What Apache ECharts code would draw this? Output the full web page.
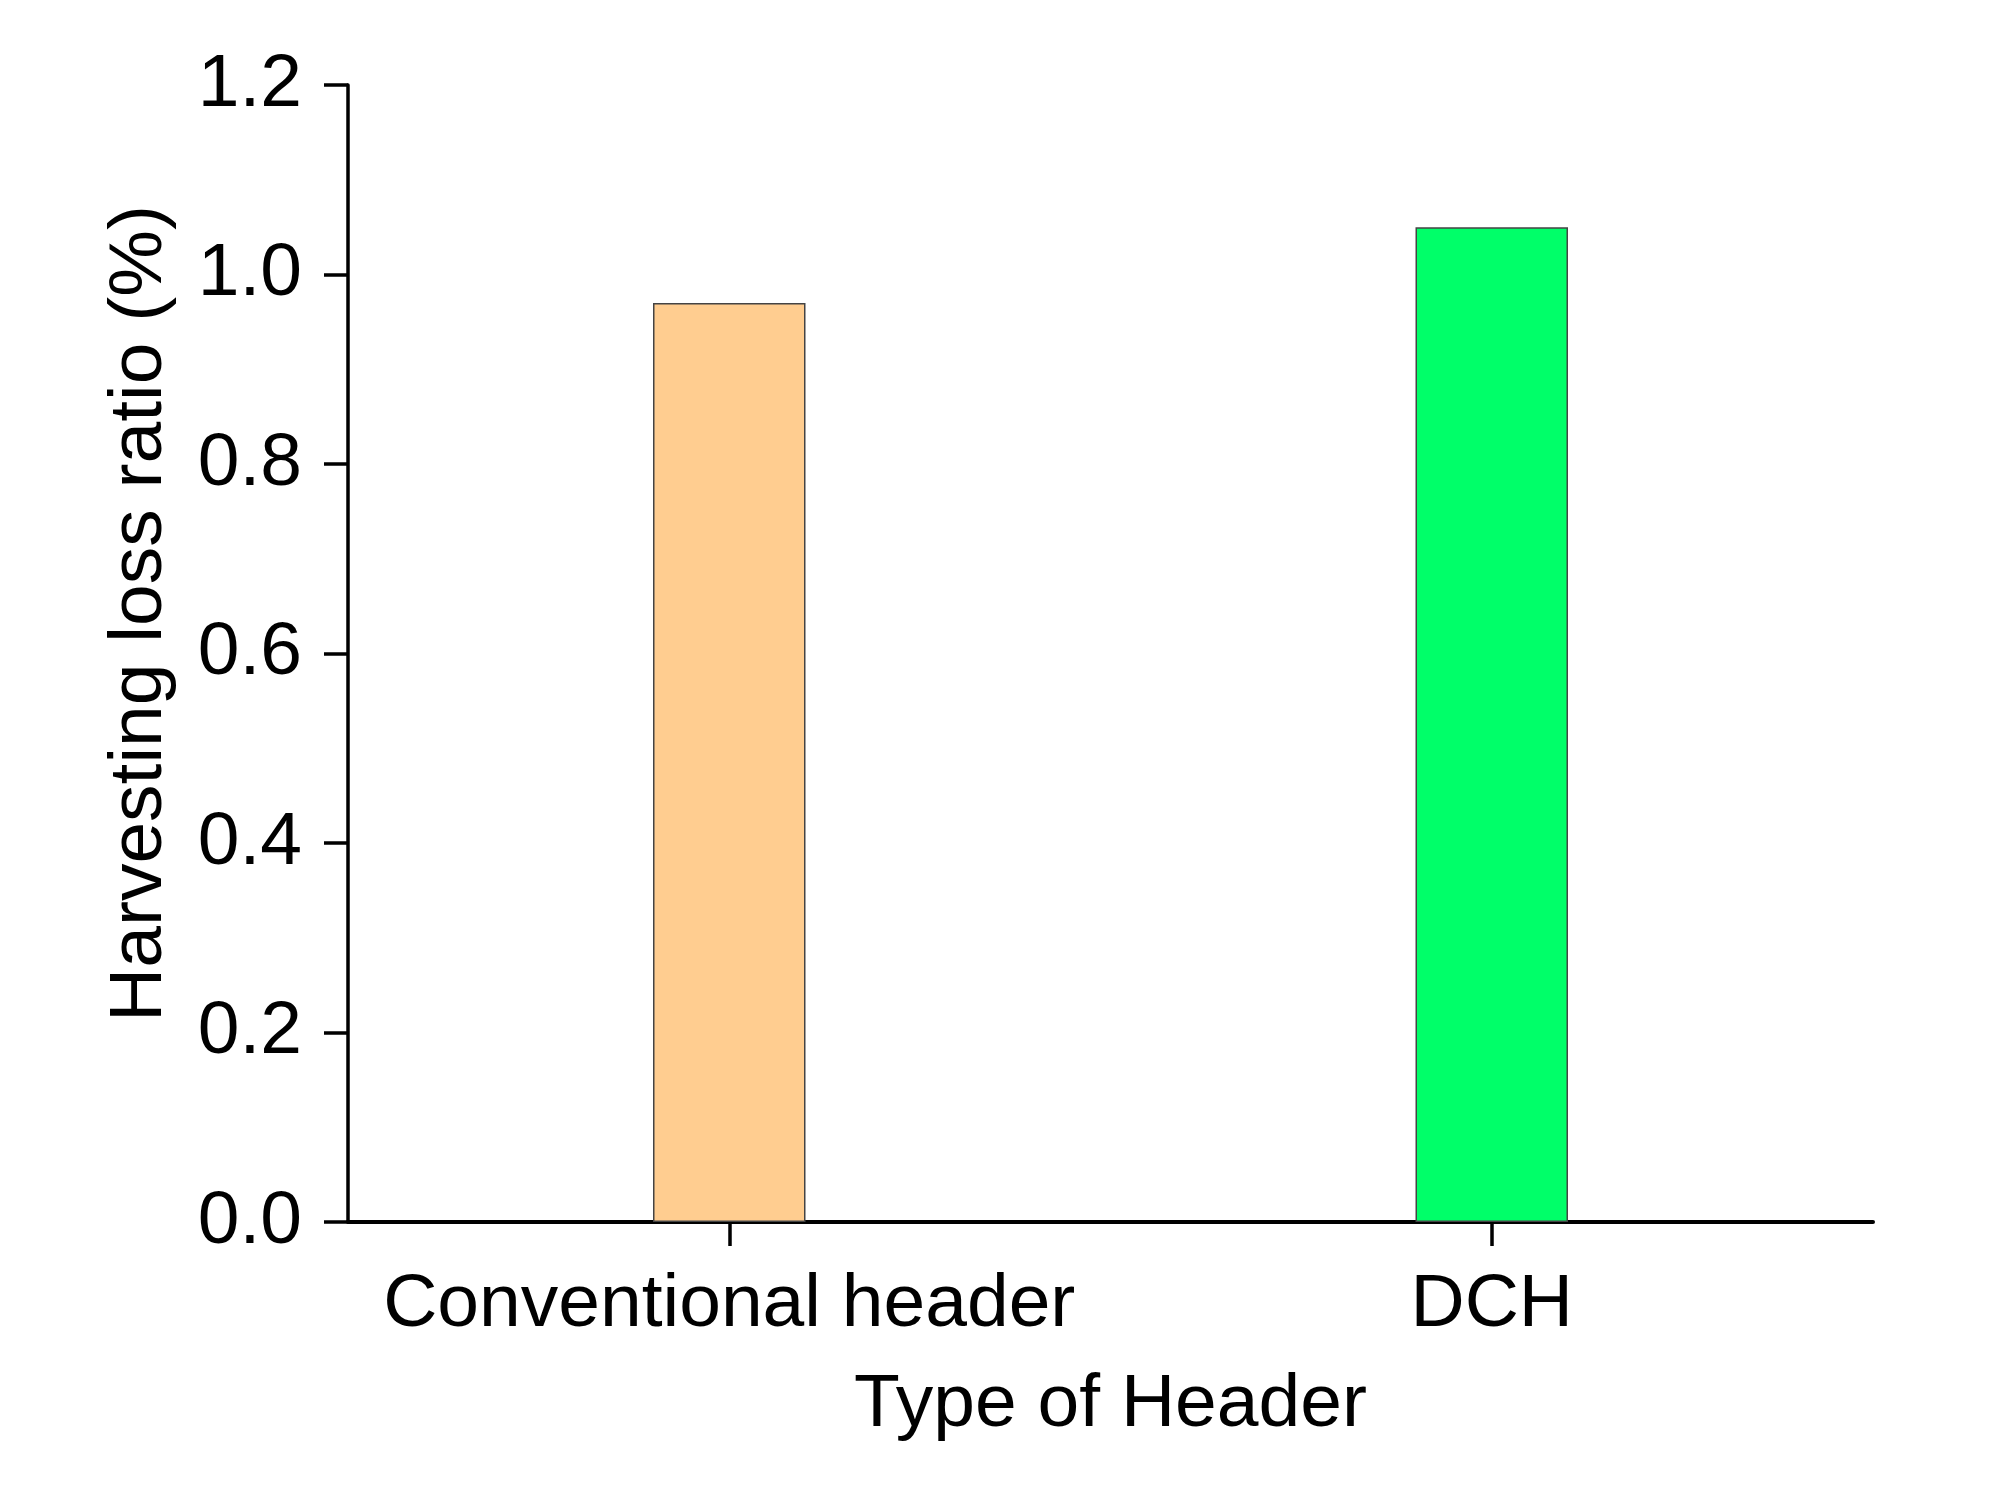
<!DOCTYPE html>
<html>
<head>
<meta charset="utf-8">
<script src="https://cdn.jsdelivr.net/npm/echarts@6/dist/echarts.min.js"></script>
<style>
html,body{margin:0;padding:0;background:#fff;}
#c{width:2001px;height:1485px;}
</style>
</head>
<body>
<div id="c"></div>
<script>
const categories = ['Conventional header', 'DCH'];
const values = [0.97, 1.05];
const barColors = ['#FFCD90', '#00FF69'];
const yTicks = [0, 0.2, 0.4, 0.6, 0.8, 1.0, 1.2];

const chart = echarts.init(document.getElementById('c'), null, {renderer: 'canvas'});
const font = 'Liberation Sans, Arial, sans-serif';
chart.setOption({
  animation: false,
  backgroundColor: '#fff',
  grid: {left: 348, top: 85, right: 128, bottom: 263, containLabel: false},
  xAxis: {
    type: 'category',
    data: categories,
    name: 'Type of Header',
    nameLocation: 'middle',
    nameGap: 146,
    nameTextStyle: {fontFamily: font, fontSize: 75, color: '#000'},
    axisLine: {show: true, lineStyle: {color: '#000', width: 4}},
    axisTick: {show: true, alignWithLabel: true, interval: 0, length: 24, lineStyle: {color: '#000', width: 3.5}},
    axisLabel: {fontFamily: font, fontSize: 75, color: '#000', margin: 46, interval: 0},
    splitLine: {show: false}
  },
  yAxis: {
    type: 'value',
    min: 0,
    max: 1.2,
    interval: 0.2,
    name: 'Harvesting loss ratio (%)',
    nameLocation: 'middle',
    nameGap: 170,
    nameTextStyle: {fontFamily: font, fontSize: 75, color: '#000', padding: [0, 0, 0, 80]},
    axisLine: {show: true, lineStyle: {color: '#000', width: 3.5}},
    axisTick: {show: true, length: 24, lineStyle: {color: '#000', width: 3.5}},
    axisLabel: {fontFamily: font, fontSize: 75, color: '#000', margin: 46,
      formatter: v => v.toFixed(1)},
    splitLine: {show: false}
  },
  series: [{
    type: 'bar',
    barWidth: '20%',
    data: values.map((v, i) => ({value: v, itemStyle: {color: barColors[i]}})),
    itemStyle: {borderColor: '#444', borderWidth: 1.5}
  }]
});
</script>
</body>
</html>
